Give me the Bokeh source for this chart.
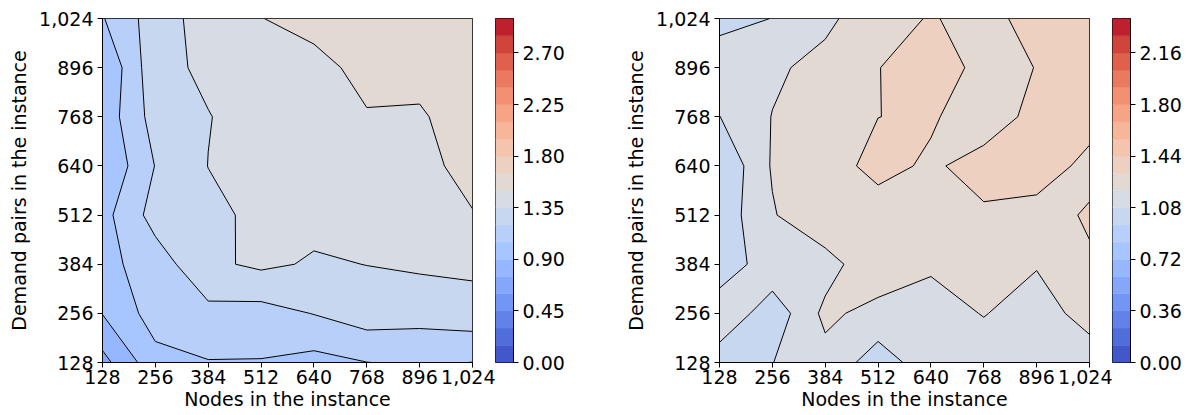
import numpy as np
from bokeh.plotting import figure
from bokeh.layouts import row
from bokeh.models import Range1d, FixedTicker, NumeralTickFormatter, ColumnDataSource
from bokeh.embed import file_html
from bokeh.resources import INLINE

# Instance sizes on both axes
nodes = [128, 256, 384, 512, 640, 768, 896, 1024]
pairs = [128, 256, 384, 512, 640, 768, 896, 1024]
axis_ticks = [128, 256, 384, 512, 640, 768, 896, 1024]

# Measured ratio per (demand pairs, nodes); rows run from 128 pairs up to 1,024 pairs
ratio_left = [
    [0.700, 1.000, 1.043, 1.042, 1.001, 1.048, 1.070, 1.048],
    [0.905, 1.117, 1.160, 1.144, 1.205, 1.278, 1.258, 1.288],
    [1.004, 1.122, 1.320, 1.378, 1.334, 1.352, 1.373, 1.382],
    [0.998, 1.260, 1.310, 1.388, 1.393, 1.420, 1.450, 1.495],
    [0.906, 1.205, 1.352, 1.380, 1.420, 1.450, 1.470, 1.534],
    [0.950, 1.263, 1.345, 1.408, 1.440, 1.484, 1.472, 1.628],
    [0.900, 1.305, 1.378, 1.420, 1.428, 1.569, 1.580, 1.600],
    [1.040, 1.276, 1.416, 1.495, 1.578, 1.600, 1.620, 1.640],
]

ratio_right = [
    [1.004, 1.078, 1.155, 1.026, 1.141, 1.085, 1.130, 1.085],
    [1.190, 1.001, 1.230, 1.152, 1.110, 1.210, 1.099, 1.286],
    [0.975, 1.175, 1.145, 1.300, 1.230, 1.250, 1.215, 1.310],
    [1.004, 1.189, 1.311, 1.257, 1.280, 1.301, 1.285, 1.330],
    [0.967, 1.212, 1.262, 1.360, 1.300, 1.371, 1.370, 1.293],
    [1.078, 1.2036, 1.270, 1.319, 1.335, 1.250, 1.359, 1.357],
    [1.154, 1.178, 1.241, 1.318, 1.360, 1.2975, 1.3214, 1.370],
    [1.040, 1.082, 1.170, 1.285, 1.326, 1.291, 1.353, 1.360],
]

# Contour levels (20 bands each) and colour-bar ticks
levels_left = np.linspace(0.0, 3.0, 21)
levels_right = np.linspace(0.0, 2.4, 21)
cbar_ticks_left = [0.00, 0.45, 0.90, 1.35, 1.80, 2.25, 2.70]
cbar_ticks_right = [0.00, 0.36, 0.72, 1.08, 1.44, 1.80, 2.16]

x_title = "Nodes in the instance"
y_title = "Demand pairs in the instance"

# Moreland's cool-warm diverging map, 33 control points
COOLWARM = [
    (59, 76, 192), (68, 90, 204), (77, 104, 215), (87, 117, 225), (98, 130, 234),
    (108, 142, 241), (119, 154, 247), (130, 165, 251), (141, 176, 254), (152, 185, 255),
    (163, 194, 255), (174, 201, 253), (184, 208, 249), (194, 213, 244), (204, 217, 238),
    (213, 219, 230), (221, 221, 221), (229, 216, 209), (236, 211, 197), (241, 204, 185),
    (245, 196, 173), (247, 187, 160), (247, 177, 148), (247, 166, 135), (244, 154, 123),
    (241, 141, 111), (236, 127, 99), (229, 112, 88), (222, 96, 77), (213, 80, 66),
    (203, 62, 56), (192, 40, 47), (180, 4, 38),
]


def coolwarm(t):
    pos = np.linspace(0.0, 1.0, len(COOLWARM))
    rgb = [np.interp(t, pos, [c[k] for c in COOLWARM]) for k in range(3)]
    return "#%02x%02x%02x" % tuple(int(round(v)) for v in rgb)


def band_palette(levels):
    lo, hi = levels[0], levels[-1]
    mids = 0.5 * (levels[:-1] + levels[1:])
    return [coolwarm((m - lo) / (hi - lo)) for m in mids]


FONT = "DejaVu Sans"
FS = "19px"
TOP, BOTTOM, H = 18, 53, 415


def style_axis(ax):
    ax.major_label_text_font = FONT
    ax.major_label_text_font_size = FS
    ax.major_label_text_color = "black"
    ax.axis_label_text_font = FONT
    ax.axis_label_text_font_size = FS
    ax.axis_label_text_font_style = "normal"
    ax.axis_label_text_color = "black"
    ax.major_tick_in = 0
    ax.major_tick_out = 5
    ax.major_tick_line_color = "black"
    ax.minor_tick_line_color = None
    ax.axis_line_color = "black"
    ax.major_label_standoff = 2
    ax.axis_label_standoff = 1


def contour_panel(z, levels, width, left, right):
    p = figure(width=width, height=H,
               x_range=Range1d(nodes[0], nodes[-1]), y_range=Range1d(pairs[0], pairs[-1]),
               min_border_left=left, min_border_right=right,
               min_border_top=TOP, min_border_bottom=BOTTOM,
               output_backend="svg", toolbar_location=None)
    p.contour(x=np.array(nodes, dtype=float), y=np.array(pairs, dtype=float),
              z=np.array(z, dtype=float), levels=list(levels),
              fill_color=band_palette(levels), line_color="black", line_width=1.0)
    for ax in (p.xaxis[0], p.yaxis[0]):
        ax.ticker = FixedTicker(ticks=axis_ticks)
        ax.formatter = NumeralTickFormatter(format="0,0")
        style_axis(ax)
    p.yaxis[0].major_label_standoff = 4
    p.yaxis[0].axis_label_standoff = 6
    p.xaxis.axis_label = x_title
    p.yaxis.axis_label = y_title
    p.grid.visible = False
    p.outline_line_color = "black"
    p.outline_line_alpha = 1.0
    p.outline_line_width = 1
    p.background_fill_color = "white"
    p.border_fill_color = "white"
    return p


def colorbar_panel(levels, ticks, width, right):
    pal = band_palette(levels)
    src = ColumnDataSource(dict(bottom=list(levels[:-1]), top=list(levels[1:]), color=pal))
    p = figure(width=width, height=H,
               x_range=Range1d(0, 1), y_range=Range1d(levels[0], levels[-1]),
               y_axis_location="right",
               min_border_left=0, min_border_right=right,
               min_border_top=TOP, min_border_bottom=BOTTOM,
               output_backend="svg", toolbar_location=None)
    p.quad(left=0, right=1, bottom="bottom", top="top", fill_color="color",
           line_color="color", line_width=0.5, source=src)
    p.xaxis.visible = False
    ax = p.yaxis[0]
    ax.ticker = FixedTicker(ticks=ticks)
    ax.formatter = NumeralTickFormatter(format="0.00")
    style_axis(ax)
    ax.major_label_standoff = 4
    p.grid.visible = False
    p.outline_line_color = "black"
    p.outline_line_alpha = 1.0
    p.outline_line_width = 1
    p.border_fill_color = "white"
    return p


left_plot = contour_panel(ratio_left, levels_left, 495, 102, 23)
left_bar = colorbar_panel(levels_left, cbar_ticks_left, 105, 87)
right_plot = contour_panel(ratio_right, levels_right, 512, 119, 23)
right_bar = colorbar_panel(levels_right, cbar_ticks_right, 80, 62)

layout = row(left_plot, left_bar, right_plot, right_bar, spacing=0)

open("out.html", "w").write(file_html(layout, INLINE))
